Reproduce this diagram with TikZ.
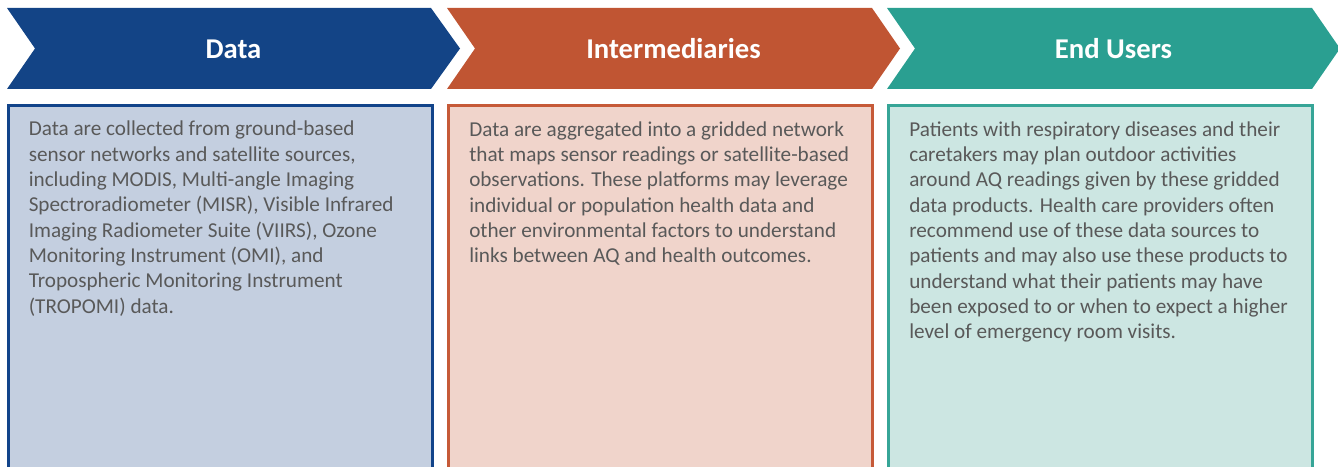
\documentclass[tikz,border=0pt]{standalone}
\usepackage{fontspec}
\setmainfont{Carlito}
\definecolor{cblue}{HTML}{134486}
\definecolor{corange}{HTML}{C05533}
\definecolor{cteal}{HTML}{2A9F91}
\definecolor{fblue}{HTML}{C4CFE0}
\definecolor{forange}{HTML}{F0D4CB}
\definecolor{fteal}{HTML}{CCE6E2}
\definecolor{bblue}{HTML}{12448A}
\definecolor{borange}{HTML}{C65A38}
\definecolor{bteal}{HTML}{36A597}
\definecolor{txt}{HTML}{595959}
\begin{document}
\begin{tikzpicture}[x=0.75pt,y=-0.75pt,
  title/.style={text=white,font=\fontsize{21.5pt}{24pt}\selectfont\bfseries,inner sep=0pt,anchor=base},
  body/.style={text=txt,font=\fontsize{15.9pt}{19pt}\selectfont,align=left,inner sep=0pt,anchor=base west},
  panel/.style={line width=1.9pt}]
\useasboundingbox (0,0) rectangle (1338,467);
\clip (0,0) rectangle (1338,467);
% chevrons
\fill[cblue] (7,8) -- (431,8) -- (460,48.5) -- (431,89) -- (7,89) -- (35,48.5) -- cycle;
\fill[corange] (447,8) -- (872,8) -- (900,48.5) -- (872,89) -- (447,89) -- (475,48.5) -- cycle;
\fill[cteal] (887,8) -- (1312,8) -- (1340,48.5) -- (1312,89) -- (887,89) -- (915,48.5) -- cycle;
\node[title] (t1) at (233.5,59) {Data};
\node[title] (t2) at (673.5,59) {Intermediaries};
\node[title] (t3) at (1113.5,59) {End Users};
% panels
\draw[panel,draw=bblue,fill=fblue] (8.5,105.5) rectangle (432.5,490);
\draw[panel,draw=borange,fill=forange] (448.5,105.5) rectangle (872.5,490);
\draw[panel,draw=bteal,fill=fteal] (888.5,105.5) rectangle (1312.5,490);
\node[body] (b1) at (28.5,313.3) {Data are collected from ground-based\\
sensor networks and satellite sources,\\
including MODIS, Multi-angle Imaging\\
Spectroradiometer (MISR), Visible Infrared\\
Imaging Radiometer Suite (VIIRS), Ozone\\
Monitoring Instrument (OMI), and\\
Tropospheric Monitoring Instrument\\
(TROPOMI) data.};
\node[body] (b2) at (469,262.7) {Data are aggregated into a gridded network\\
that maps sensor readings or satellite-based\\
observations. These platforms may leverage\\
individual or population health data and\\
other environmental factors to understand\\
links between AQ and health outcomes.};
\node[body] (b3) at (909,338.7) {Patients with respiratory diseases and their\\
caretakers may plan outdoor activities\\
around AQ readings given by these gridded\\
data products. Health care providers often\\
recommend use of these data sources to\\
patients and may also use these products to\\
understand what their patients may have\\
been exposed to or when to expect a higher\\
level of emergency room visits.};
\end{tikzpicture}
\end{document}
